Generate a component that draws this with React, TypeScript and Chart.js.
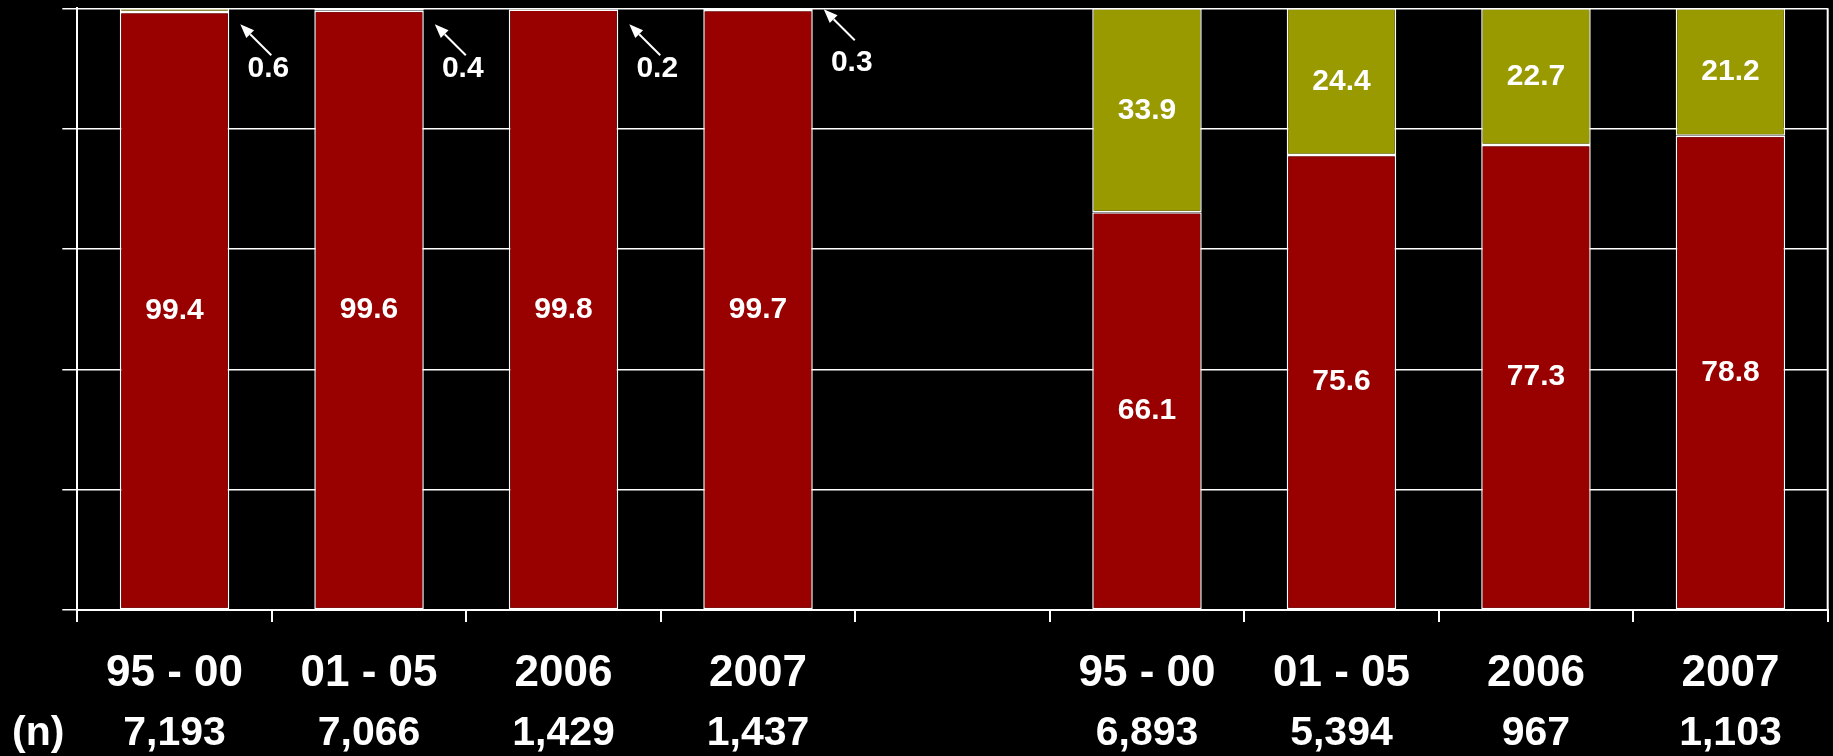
import React, { useEffect, useRef } from 'react';
import { Chart, registerables } from 'chart.js';

Chart.register(...registerables);

// Period labels; the blank slot separates the two groups of bars.
const categories = ['95 - 00', '01 - 05', '2006', '2007', '', '95 - 00', '01 - 05', '2006', '2007'];
// Lower (red) segment share, %.
const redValues: (number | null)[] = [99.4, 99.6, 99.8, 99.7, null, 66.1, 75.6, 77.3, 78.8];
// Upper (olive) segment share, %.
const oliveValues: (number | null)[] = [0.6, 0.4, 0.2, 0.3, null, 33.9, 24.4, 22.7, 21.2];
// Sample sizes shown under each period.
const sampleSizes = ['7,193', '7,066', '1,429', '1,437', '', '6,893', '5,394', '967', '1,103'];
const sampleHeader = '(n)';
const yTicks = [0, 20, 40, 60, 80, 100];

const RED = '#990000';
const OLIVE = '#999900';
const WHITE = '#ffffff';
const FONT = '"Liberation Sans", Arial, Helvetica, sans-serif';

// Segments thinner than this get a callout with an arrow instead of an inside label.
const SMALL_SEGMENT = 5;
// Extra upward lift (px) for individual callouts: [arrow, label].
const calloutLift: Record<number, [number, number]> = { 3: [15, 6] };

function drawArrow(ctx: CanvasRenderingContext2D, x1: number, y1: number, x2: number, y2: number) {
  const ang = Math.atan2(y2 - y1, x2 - x1);
  const head = 14;
  const half = 5.5;
  const bx = x2 - head * Math.cos(ang);
  const by = y2 - head * Math.sin(ang);
  ctx.beginPath();
  ctx.moveTo(x1, y1);
  ctx.lineTo(bx, by);
  ctx.lineWidth = 2;
  ctx.strokeStyle = WHITE;
  ctx.stroke();
  ctx.beginPath();
  ctx.moveTo(x2, y2);
  ctx.lineTo(bx + half * Math.sin(ang), by - half * Math.cos(ang));
  ctx.lineTo(bx - half * Math.sin(ang), by + half * Math.cos(ang));
  ctx.closePath();
  ctx.fillStyle = WHITE;
  ctx.fill();
}

const segmentLabels = {
  id: 'segmentLabels',
  afterDatasetsDraw(chart: any) {
    const ctx: CanvasRenderingContext2D = chart.ctx;
    ctx.save();
    ctx.font = `bold 30px ${FONT}`;
    ctx.textAlign = 'center';
    ctx.textBaseline = 'middle';
    chart.data.datasets.forEach((ds: any, di: number) => {
      const meta = chart.getDatasetMeta(di);
      meta.data.forEach((bar: any, i: number) => {
        const v = ds.data[i];
        if (v == null) return;
        const { x, y, base, width } = bar.getProps(['x', 'y', 'base', 'width'], true);
        const text = v.toFixed(1);
        ctx.fillStyle = WHITE;
        if (v >= SMALL_SEGMENT) {
          ctx.fillText(text, x, (y + base) / 2);
        } else {
          const right = x + width / 2;
          const top = Math.min(y, base);
          const [liftA, liftL] = calloutLift[i] || [0, 0];
          drawArrow(ctx, right + 42, top + 47 - liftA, right + 11, top + 16 - liftA);
          ctx.fillStyle = WHITE;
          ctx.fillText(text, right + 39, top + 60 - liftL);
        }
      });
    });
    ctx.restore();
  },
};

const frameAndCounts = {
  id: 'frameAndCounts',
  afterDraw(chart: any) {
    const ctx: CanvasRenderingContext2D = chart.ctx;
    const { top, bottom, right, left } = chart.chartArea;
    const xs = chart.scales.x;
    ctx.save();
    // right frame edge
    ctx.beginPath();
    ctx.moveTo(right, top);
    ctx.lineTo(right, bottom);
    ctx.lineWidth = 2;
    ctx.strokeStyle = WHITE;
    ctx.stroke();
    // sample size row
    ctx.fillStyle = WHITE;
    ctx.font = `bold 41px ${FONT}`;
    ctx.textAlign = 'center';
    ctx.textBaseline = 'middle';
    const rowY = bottom + 123.5;
    sampleSizes.forEach((s, i) => {
      if (!s) return;
      ctx.fillText(s, xs.getPixelForValue(i), rowY);
    });
    ctx.fillText(sampleHeader, left - 39, rowY);
    ctx.restore();
  },
};

export default function App() {
  const ref = useRef<HTMLCanvasElement | null>(null);

  useEffect(() => {
    if (!ref.current) return;
    const chart = new Chart(ref.current, {
      type: 'bar',
      data: {
        labels: categories,
        datasets: [
          {
            label: 'red',
            data: redValues,
            backgroundColor: RED,
            borderColor: WHITE,
            borderWidth: 1.5,
            borderSkipped: false,
            barPercentage: 0.563,
            categoryPercentage: 1,
          },
          {
            label: 'olive',
            data: oliveValues,
            backgroundColor: OLIVE,
            borderColor: WHITE,
            borderWidth: 1.5,
            borderSkipped: false,
            barPercentage: 0.563,
            categoryPercentage: 1,
          },
        ],
      },
      options: {
        responsive: false,
        animation: false,
        devicePixelRatio: 1,
        layout: { padding: { left: 62.3, right: 5.3, top: 8.3, bottom: 30.4 } },
        plugins: {
          legend: { display: false },
          tooltip: { enabled: false },
        },
        scales: {
          x: {
            stacked: true,
            offset: true,
            grid: {
              display: true,
              offset: true,
              drawOnChartArea: false,
              drawTicks: true,
              tickLength: 12,
              color: WHITE,
              lineWidth: 2,
            },
            border: { display: true, color: WHITE, width: 2 },
            ticks: {
              color: WHITE,
              font: { family: FONT, size: 44, weight: 'bold' },
              padding: 25.4,
              autoSkip: false,
              maxRotation: 0,
              minRotation: 0,
            },
          },
          y: {
            stacked: true,
            min: yTicks[0],
            max: yTicks[yTicks.length - 1],
            afterBuildTicks: (scale: any) => {
              scale.ticks = yTicks.map((v) => ({ value: v }));
            },
            grid: {
              display: true,
              drawOnChartArea: true,
              drawTicks: true,
              tickLength: 15,
              color: WHITE,
              lineWidth: 1.5,
            },
            border: { display: true, color: WHITE, width: 2 },
            ticks: { display: false },
          },
        },
      },
      plugins: [segmentLabels, frameAndCounts],
    } as any);
    return () => chart.destroy();
  }, []);

  return (
    <div style={{ position: 'fixed', left: 0, top: 0, width: 1833, height: 756, background: '#000' }}>
      <canvas ref={ref} width={1833} height={756} style={{ display: 'block' }} />
    </div>
  );
}
